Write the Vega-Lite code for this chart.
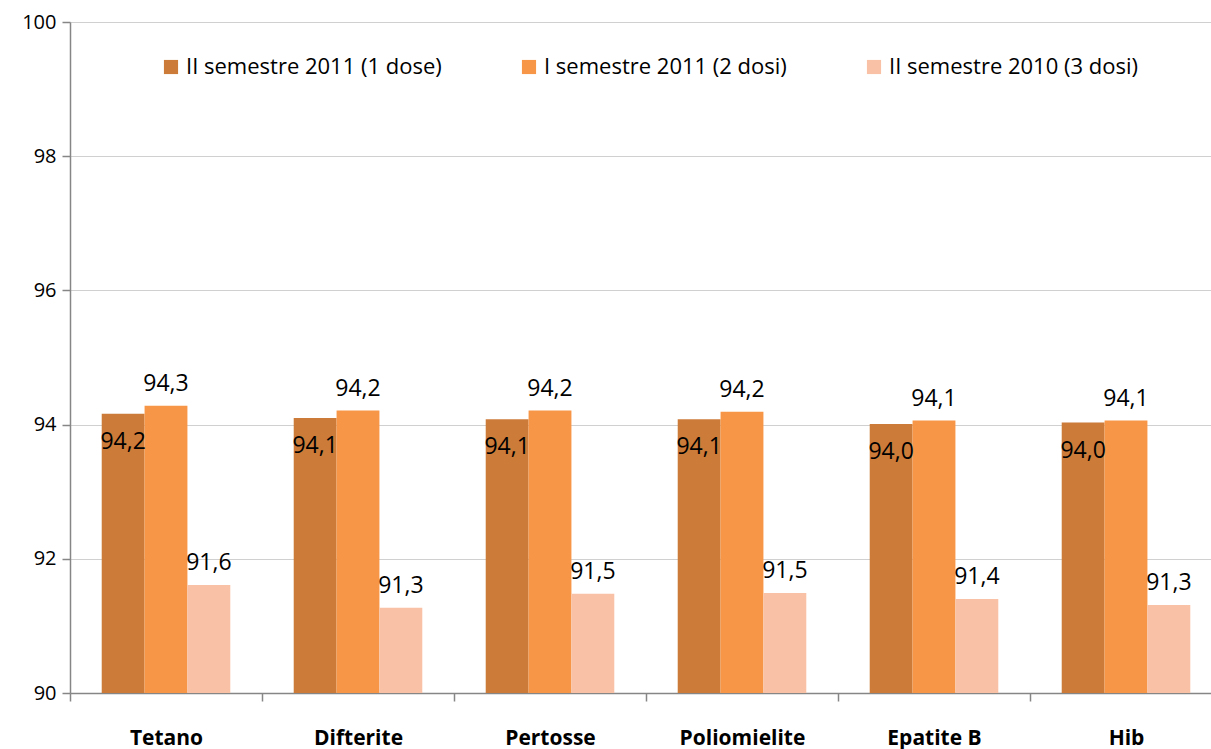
{
  "$schema": "https://vega.github.io/schema/vega-lite/v6.json",
  "width": 1141,
  "height": 671,
  "autosize": {"type": "none"},
  "padding": {"left": 70, "top": 22, "right": 0, "bottom": 56},
  "background": "white",
  "config": {
    "font": "Open Sans",
    "view": {"stroke": null},
    "locale": {"number": {"decimal": ",", "thousands": ".", "grouping": [3], "currency": ["", " €"]}}
  },
  "data": {
    "values": [
      {"cat": "Tetano", "serie": "II semestre 2011 (1 dose)", "v": 94.16},
      {"cat": "Tetano", "serie": "I semestre 2011 (2 dosi)", "v": 94.28},
      {"cat": "Tetano", "serie": "II semestre 2010 (3 dosi)", "v": 91.61},
      {"cat": "Difterite", "serie": "II semestre 2011 (1 dose)", "v": 94.1},
      {"cat": "Difterite", "serie": "I semestre 2011 (2 dosi)", "v": 94.21},
      {"cat": "Difterite", "serie": "II semestre 2010 (3 dosi)", "v": 91.27},
      {"cat": "Pertosse", "serie": "II semestre 2011 (1 dose)", "v": 94.08},
      {"cat": "Pertosse", "serie": "I semestre 2011 (2 dosi)", "v": 94.21},
      {"cat": "Pertosse", "serie": "II semestre 2010 (3 dosi)", "v": 91.48},
      {"cat": "Poliomielite", "serie": "II semestre 2011 (1 dose)", "v": 94.08},
      {"cat": "Poliomielite", "serie": "I semestre 2011 (2 dosi)", "v": 94.19},
      {"cat": "Poliomielite", "serie": "II semestre 2010 (3 dosi)", "v": 91.49},
      {"cat": "Epatite B", "serie": "II semestre 2011 (1 dose)", "v": 94.01},
      {"cat": "Epatite B", "serie": "I semestre 2011 (2 dosi)", "v": 94.06},
      {"cat": "Epatite B", "serie": "II semestre 2010 (3 dosi)", "v": 91.4},
      {"cat": "Hib", "serie": "II semestre 2011 (1 dose)", "v": 94.03},
      {"cat": "Hib", "serie": "I semestre 2011 (2 dosi)", "v": 94.06},
      {"cat": "Hib", "serie": "II semestre 2010 (3 dosi)", "v": 91.31}
    ]
  },
  "encoding": {
    "x": {
      "field": "cat", "type": "nominal",
      "sort": ["Tetano", "Difterite", "Pertosse", "Poliomielite", "Epatite B", "Hib"],
      "scale": {"range": [0, 1152], "paddingInner": 0, "paddingOuter": 0},
      "axis": {
        "title": null, "labelAngle": 0, "labelFontSize": 21, "labelFontWeight": "bold",
        "labelColor": "black", "labelPadding": 26, "labelBaseline": "top", "tickBand": "extent", "tickSize": 8,
        "tickColor": "#868686", "domainColor": "#868686", "domainWidth": 1.5, "tickWidth": 1.5, "grid": false
      }
    },
    "xOffset": {
      "field": "serie", "type": "nominal",
      "sort": ["II semestre 2011 (1 dose)", "I semestre 2011 (2 dosi)", "II semestre 2010 (3 dosi)"],
      "scale": {"paddingInner": 0, "paddingOuter": 0.74}
    },
    "y": {
      "field": "v", "type": "quantitative",
      "scale": {"domain": [90, 100], "zero": false, "nice": false},
      "axis": {
        "title": null, "values": [90, 92, 94, 96, 98, 100], "labelFontSize": 20, "labelColor": "black",
        "tickSize": 8, "tickColor": "#868686", "domainColor": "#868686", "domainWidth": 1.5, "tickWidth": 1.5,
        "gridColor": "#d0d0d0", "gridWidth": 1, "labelPadding": 6, "format": "d"
      }
    }
  },
  "layer": [
    {
      "mark": {"type": "bar"},
      "encoding": {
        "y2": {"datum": 90},
        "color": {
          "field": "serie", "type": "nominal",
          "sort": ["II semestre 2011 (1 dose)", "I semestre 2011 (2 dosi)", "II semestre 2010 (3 dosi)"],
          "scale": {"range": ["#CC7B38", "#F79646", "#F9C1A6"]},
          "legend": {
            "title": null, "orient": "none", "legendX": 90, "legendY": 34, "direction": "horizontal",
            "symbolType": "square", "symbolSize": 200, "symbolStrokeWidth": 0, "labelFontSize": 22,
            "labelColor": "black", "columnPadding": 76, "labelOffset": 4, "labelLimit": 500
          }
        }
      }
    },
    {
      "transform": [{"filter": "datum.serie == 'II semestre 2011 (1 dose)'"}],
      "mark": {"type": "text", "fontSize": 23, "baseline": "middle", "dy": 28, "color": "black"},
      "encoding": {"text": {"field": "v", "type": "quantitative", "format": ".1f"}}
    },
    {
      "transform": [{"filter": "datum.serie != 'II semestre 2011 (1 dose)'"}],
      "mark": {"type": "text", "fontSize": 23, "baseline": "middle", "dy": -22, "color": "black"},
      "encoding": {"text": {"field": "v", "type": "quantitative", "format": ".1f"}}
    }
  ]
}
